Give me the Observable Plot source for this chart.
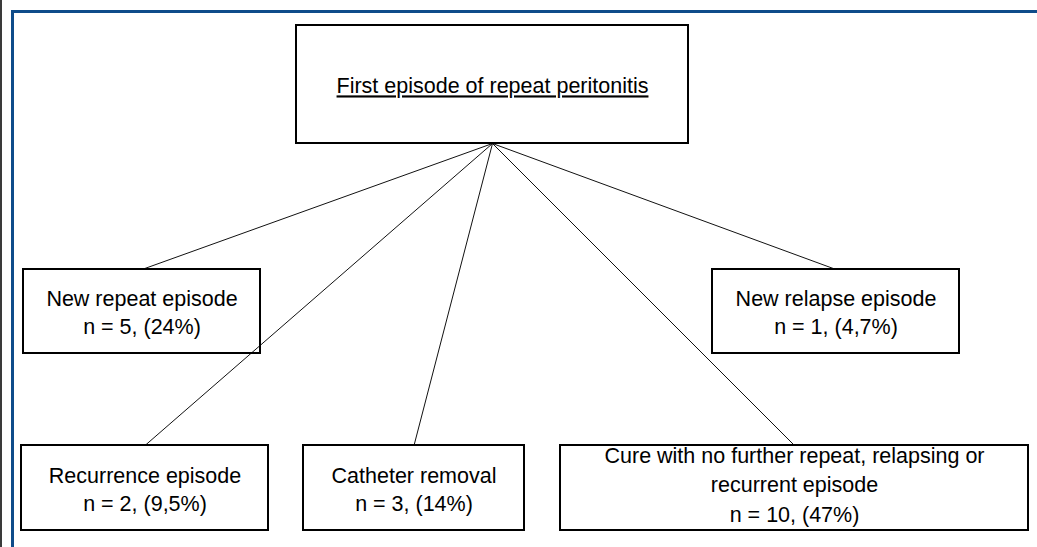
<!DOCTYPE html>
<html>
<head>
<meta charset="utf-8">
<script src="https://cdn.jsdelivr.net/npm/d3@7"></script>
<script src="https://cdn.jsdelivr.net/npm/@observablehq/plot@0.6"></script>
<style>
  html, body { margin: 0; padding: 0; background: #fff; overflow: hidden; }
  #page { position: relative; width: 1037px; height: 547px; }
  #edge { position: absolute; left: 0; top: 0; width: 2px; height: 547px; background: #3a3a3a; }
  #frame { position: absolute; left: 11px; top: 10px; width: 1026px; height: 537px;
           border-top: 3px solid #0f4c8a; border-left: 3px solid #0f4c8a; box-sizing: border-box; }
  #chart { position: absolute; left: 14px; top: 13px; }
</style>
</head>
<body>
<div id="page">
  <div id="edge"></div>
  <div id="frame"></div>
  <div id="chart"></div>
</div>
<script>
// ---- data ----
const nodeNames = [
  "First episode of repeat peritonitis",
  "New repeat episode",
  "New relapse episode",
  "Recurrence episode",
  "Catheter removal",
  "Cure with no further repeat, relapsing or\nrecurrent episode"
];
const nodeCounts = [null, 5, 1, 2, 3, 10];
const nodePercents = [null, "24%", "4,7%", "9,5%", "14%", "47%"];
const parentIndex = [null, 0, 0, 0, 0, 0];

// ---- layout (page pixels) ----
const boxLeft   = [296, 23, 712, 21, 303, 560];
const boxRight  = [688, 260, 959, 268, 524, 1028];
const boxTop    = [25, 269, 269, 445, 445, 445];
const boxBottom = [143, 353, 353, 530, 530, 530];
const lineHeights = [1, 1.3, 1.3, 1.3, 1.3, 1.36];
const textShift = [2, 0, 0, 0, 0, -5];

const nodes = nodeNames.map((name, i) => ({
  i,
  name,
  label: nodeCounts[i] == null ? name : `${name}\nn = ${nodeCounts[i]}, (${nodePercents[i]})`,
  x1: boxLeft[i], x2: boxRight[i], y1: boxTop[i], y2: boxBottom[i],
  cx: (boxLeft[i] + boxRight[i]) / 2,
  ty: (boxTop[i] + boxBottom[i]) / 2 + textShift[i],
  lh: lineHeights[i]
}));
const links = nodes.filter(d => parentIndex[d.i] != null).map(d => {
  const p = nodes[parentIndex[d.i]];
  return { x1: p.cx, y1: p.y2, x2: d.cx, y2: d.y1 };
});

const font = "'Liberation Sans', Arial, Helvetica, sans-serif";

const textMarks = nodes.map(d => Plot.text([d], {
  x: "cx", y: "ty", text: "label",
  fontSize: 21.5, lineHeight: d.lh, fill: "#000"
}));

const plot = Plot.plot({
  width: 1023,
  height: 534,
  margin: 0,
  x: { domain: [14, 1037], axis: null },
  y: { domain: [13, 547], reverse: true, axis: null },
  style: { fontFamily: font, background: "transparent" },
  marks: [
    Plot.link(links, { x1: "x1", y1: "y1", x2: "x2", y2: "y2", stroke: "#111", strokeWidth: 1 }),
    Plot.rect(nodes, { x1: "x1", x2: "x2", y1: "y1", y2: "y2", fill: "none", stroke: "#000", strokeWidth: 2 }),
    ...textMarks
  ]
});

d3.select(plot).selectAll("text")
  .filter(function() { return this.textContent === nodeNames[0]; })
  .style("text-decoration", "underline");
document.getElementById("chart").appendChild(plot);
</script>
</body>
</html>
